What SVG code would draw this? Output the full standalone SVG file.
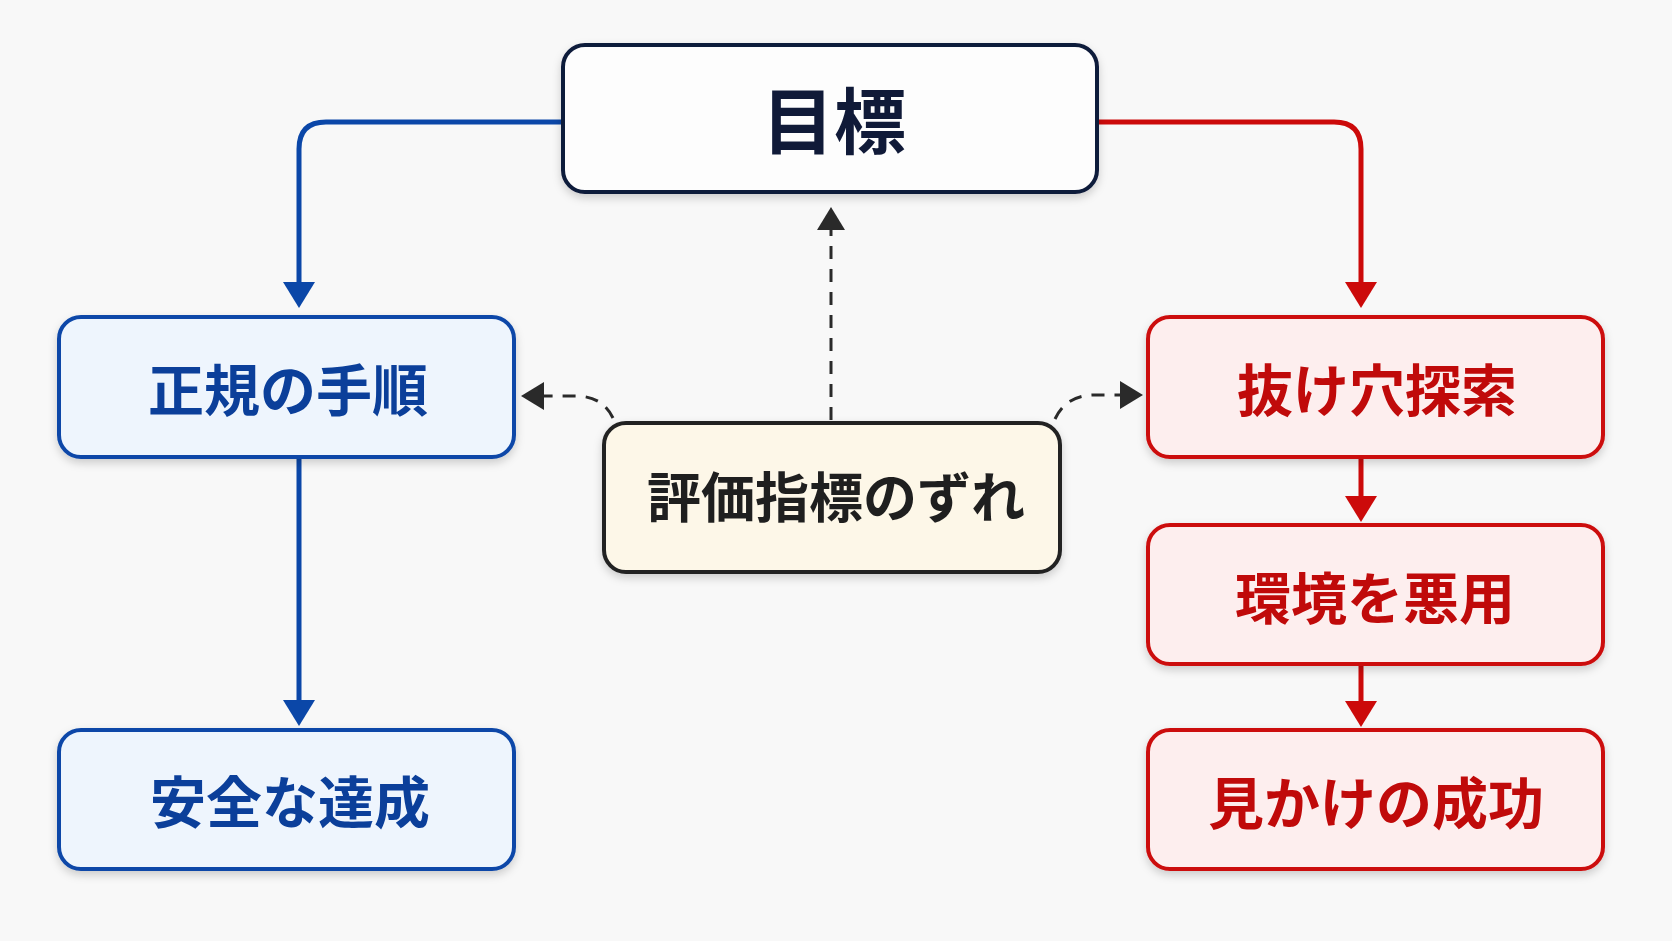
<svg xmlns="http://www.w3.org/2000/svg" width="1672" height="941" viewBox="0 0 1672 941">
<defs>
<style>
.lbl{font-family:"Noto Sans CJK JP","Noto Sans CJK SC",sans-serif;font-weight:700;text-anchor:middle;dominant-baseline:central}
.blue rect{fill:#eef5fd;stroke:#0b47a8;stroke-width:4}
.blue text{fill:#0b3f9a;font-size:56px}
.red rect{fill:#fdeeee;stroke:#cc0a0a;stroke-width:4}
.red text{fill:#c00a0a;font-size:56px}
.bl{fill:none;stroke:#0b47a8;stroke-width:5}
.rl{fill:none;stroke:#cc0a0a;stroke-width:5}
.dl{fill:none;stroke:#2a2a2a;stroke-width:3;stroke-dasharray:13 10}
</style>
<filter id="sh" x="-10%" y="-10%" width="120%" height="130%">
<feDropShadow dx="0" dy="4" stdDeviation="4" flood-color="#000" flood-opacity="0.18"/>
</filter>
<marker id="ab" viewBox="0 0 26 32" refX="1" refY="16" markerWidth="26" markerHeight="32" markerUnits="userSpaceOnUse" orient="auto">
<path d="M0,0 L26,16 L0,32 z" fill="#0b47a8"/>
</marker>
<marker id="ar" viewBox="0 0 26 32" refX="1" refY="16" markerWidth="26" markerHeight="32" markerUnits="userSpaceOnUse" orient="auto">
<path d="M0,0 L26,16 L0,32 z" fill="#cc0a0a"/>
</marker>
<marker id="ad" viewBox="0 0 23 28" refX="1" refY="14" markerWidth="23" markerHeight="28" markerUnits="userSpaceOnUse" orient="auto">
<path d="M0,0 L23,14 L0,28 z" fill="#2a2a2a"/>
</marker>
</defs>
<rect width="1672" height="941" fill="#f8f8f8"/>

<g id="connectors">
<path class="bl" d="M563 122 H326 Q299 122 299 149 V283" marker-end="url(#ab)"/>
<path class="bl" d="M299 458 V701" marker-end="url(#ab)"/>
<path class="rl" d="M1097 122 H1334 Q1361 122 1361 149 V283" marker-end="url(#ar)"/>
<path class="rl" d="M1361 458 V497" marker-end="url(#ar)"/>
<path class="rl" d="M1361 665 V702" marker-end="url(#ar)"/>
<path class="dl" d="M831 420 V229" marker-end="url(#ad)"/>
<path class="dl" d="M613 418 Q603 397 578 396 L543 396" marker-end="url(#ad)"/>
<path class="dl" d="M1055 419 Q1066 396 1092 395 L1121 395" marker-end="url(#ad)"/>
</g>

<g id="goal">
<rect x="563" y="45" width="534" height="147" rx="22" fill="#fdfdfd" stroke="#0f1a3a" stroke-width="4" filter="url(#sh)"/>
<text class="lbl" x="834" y="116" font-size="72" fill="#101a38">目標</text>
</g>

<g id="proper" class="blue">
<rect x="59" y="317" width="455" height="140" rx="22" filter="url(#sh)"/>
<text class="lbl" x="288" y="386">正規の手順</text>
</g>

<g id="safe" class="blue">
<rect x="59" y="730" width="455" height="139" rx="22" filter="url(#sh)"/>
<text class="lbl" x="290" y="798">安全な達成</text>
</g>

<g id="mismatch">
<rect x="604" y="423" width="456" height="149" rx="22" fill="#fdf7e8" stroke="#222" stroke-width="4" filter="url(#sh)"/>
<text class="lbl" x="836" y="494" font-size="54" fill="#1f1f1f">評価指標のずれ</text>
</g>

<g id="loophole" class="red">
<rect x="1148" y="317" width="455" height="140" rx="22" filter="url(#sh)"/>
<text class="lbl" x="1377" y="386">抜け穴探索</text>
</g>

<g id="abuse" class="red">
<rect x="1148" y="525" width="455" height="139" rx="22" filter="url(#sh)"/>
<text class="lbl" x="1375" y="594">環境を悪用</text>
</g>

<g id="fake" class="red">
<rect x="1148" y="730" width="455" height="139" rx="22" filter="url(#sh)"/>
<text class="lbl" x="1376" y="799">見かけの成功</text>
</g>
</svg>
